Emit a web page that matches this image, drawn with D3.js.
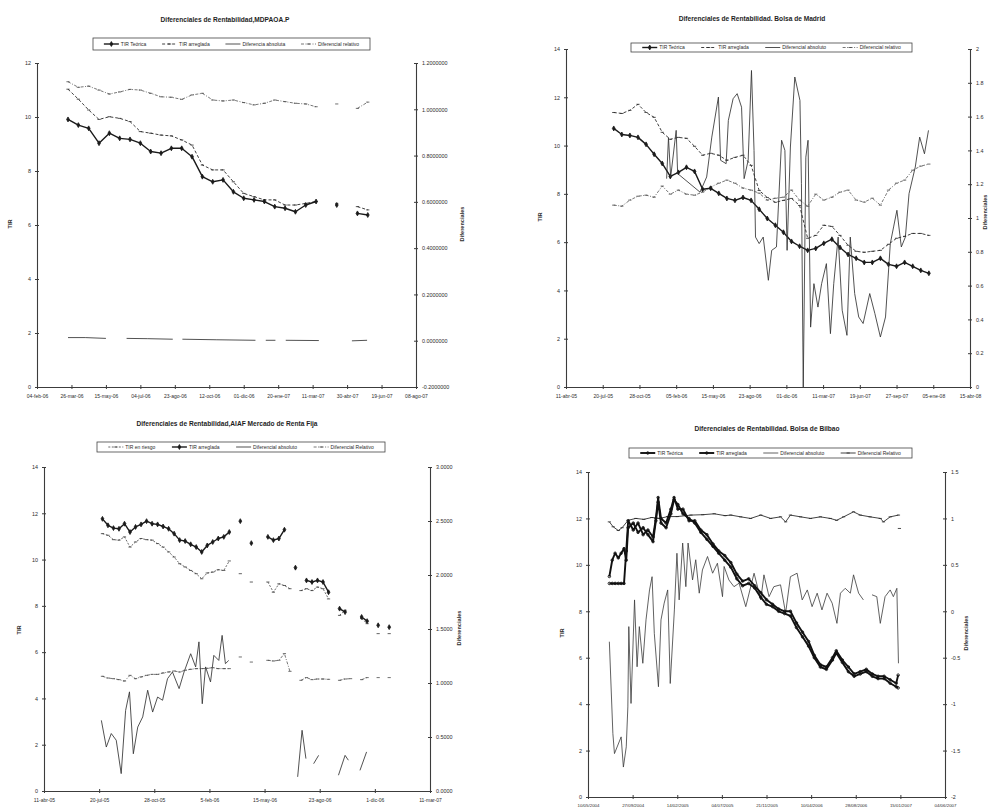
<!DOCTYPE html>
<html>
<head>
<meta charset="utf-8">
<script src="https://cdn.jsdelivr.net/npm/d3@7"></script>
<style>
    body { margin: 0; background: #fff; }
    svg { display: block; font-family: "Liberation Sans", Arial, sans-serif; }
</style>
</head>
<body>
<svg id="chart" width="989" height="807"></svg>
<script>
// ---------------------------------------------------------------------------
// data: x values are days counted from the first tick of each panel
// ---------------------------------------------------------------------------

// panel 1 : MDPAOA.P
var p1XLabels = ["04-feb-06", "26-mar-06", "15-may-06", "04-jul-06", "23-ago-06", "12-oct-06",
                 "01-dic-06", "20-ene-07", "11-mar-07", "30-abr-07", "19-jun-07", "08-ago-07"];
var p1LeftTicks = [0, 2, 4, 6, 8, 10, 12];
var p1RightTicks = [-0.2, 0, 0.2, 0.4, 0.6, 0.8, 1.0, 1.2];
var p1Legend = ["TIR Teórica", "TIR arreglada", "Diferencia absoluta", "Diferencial relativo"];
var p1Days = [45, 60, 75, 90, 105, 120, 135, 150, 165, 180, 195, 210, 225, 240, 255,
              270, 285, 300, 315, 330, 345, 360, 375, 390, 405, 420, 435, 450, 465, 480];
var p1Teorica = [9.91, 9.70, 9.58, 9.03, 9.40, 9.21, 9.17, 9.03, 8.72, 8.66, 8.84, 8.84, 8.53, 7.79, 7.60,
                 7.67, 7.23, 6.99, 6.93, 6.87, 6.68, 6.62, 6.49, 6.74, 6.87, null, 6.74, null, 6.43, 6.37];
var p1Arreglada = [11.03, 10.66, 10.26, 9.91, 10.01, 9.95, 9.83, 9.46, 9.40, 9.33, 9.30, 9.15, 8.96, 8.22, 8.04,
                   8.04, 7.60, 7.17, 7.05, 6.93, 6.93, 6.74, 6.74, 6.80, 6.87, null, 6.80, null, 6.68, 6.56];
var p1Relativo = [1.119, 1.095, 1.100, 1.083, 1.066, 1.075, 1.086, 1.083, 1.069, 1.054, 1.052, 1.043, 1.062, 1.069, 1.040,
                  1.036, 1.040, 1.029, 1.019, 1.026, 1.040, 1.033, 1.026, 1.023, 1.011, null, 1.023, null, 1.004, 1.031];
var p1AbsDays = [45, 70, 100, 115, 130, 160, 197, 204, 211, 260, 317, 325, 332, 346, 354, 361, 409, 433, 457, 479];
var p1AbsVals = [1.83, 1.83, 1.80, null, 1.80, 1.79, 1.77, null, 1.77, 1.75, 1.73, null, 1.73, 1.73, null, 1.73, 1.72, null, 1.71, 1.73];

// panel 2 : Bolsa de Madrid
var p2XLabels = ["11-abr-05", "20-jul-05", "28-oct-05", "05-feb-06", "15-may-06", "23-ago-06",
                 "01-dic-06", "11-mar-07", "19-jun-07", "27-sep-07", "05-ene-08", "15-abr-08"];
var p2LeftTicks = [0, 2, 4, 6, 8, 10, 12, 14];
var p2RightTicks = [0, 0.2, 0.4, 0.6, 0.8, 1, 1.2, 1.4, 1.6, 1.8, 2];
var p2Legend = ["TIR Teórica", "TIR arreglada", "Diferencial absoluto", "Diferencial relativo"];
var p2Days = [130, 152, 174, 196, 218, 240, 262, 284, 306, 328, 350, 372, 394, 416, 438, 460, 482, 504, 526, 548,
              570, 592, 614, 636, 658, 680, 702, 724, 746, 768, 790, 812, 834, 856, 878, 900, 922, 944, 966, 988];
var p2Teorica = [10.71, 10.46, 10.42, 10.34, 10.05, 9.64, 9.26, 8.72, 8.89, 9.10, 8.93, 8.19, 8.23, 8.02, 7.81, 7.73, 7.85, 7.73, 7.36, 6.98,
                 6.70, 6.41, 6.03, 5.83, 5.66, 5.74, 5.95, 6.12, 5.78, 5.49, 5.33, 5.16, 5.16, 5.33, 5.08, 5.00, 5.16, 5.00, 4.83, 4.71];
var p2Arreglada = [11.37, 11.33, 11.46, 11.71, 11.37, 11.17, 10.55, 10.26, 10.34, 10.30, 9.97, 9.60, 9.68, 9.60, 9.39, 9.51, 9.60, 9.18, 8.14, 7.85,
                   7.65, 7.73, 7.81, 7.52, 6.16, 6.28, 6.70, 6.65, 6.28, 5.87, 5.62, 5.58, 5.62, 5.66, 5.91, 6.16, 6.24, 6.36, 6.36, 6.28];
var p2Relativo = [1.076, 1.070, 1.106, 1.129, 1.135, 1.123, 1.189, 1.141, 1.165, 1.141, 1.135, 1.153, 1.183, 1.206, 1.224, 1.206, 1.177, 1.165, 1.147, 1.106,
                  1.117, 1.123, 1.165, 1.106, 1.070, 1.141, 1.106, 1.123, 1.153, 1.165, 1.106, 1.094, 1.117, 1.076, 1.165, 1.206, 1.224, 1.283, 1.307, 1.319];
var p2AbsDays = [274, 279, 285, 300, 304, 365, 383, 397, 415, 421, 436, 442, 455, 466, 478, 485, 496, 505, 512, 516,
                 526, 537, 551, 560, 573, 587, 596, 602, 611, 623, 637, 641, 646, 653, 659, 666, 675, 686, 696, 709,
                 720, 729, 741, 752, 765, 774, 786, 797, 809, 827, 841, 856, 870, 883, 892, 901, 913, 924, 934, 951,
                 963, 976, 987];
var p2AbsVals = [8.63, 10.33, 8.70, 10.63, 8.84, 8.07, 8.70, 10.35, 12.01, 9.39, 9.25, 11.04, 11.94, 12.15, 11.59, 8.63, 9.39, 13.11, 9.80, 6.21,
                 5.94, 6.21, 4.42, 5.66, 5.80, 10.22, 9.80, 5.66, 9.94, 12.84, 11.87, 8.42, 0.0, 9.52, 10.22, 2.48, 4.28, 3.31, 4.28, 5.11,
                 2.21, 4.28, 6.21, 3.18, 2.14, 6.21, 3.87, 2.90, 2.63, 3.87, 3.04, 2.07, 2.90, 5.94, 6.63, 7.32, 5.80, 6.21, 8.01, 9.11,
                 10.35, 9.66, 10.63];

// panel 3 : AIAF Mercado de Renta Fija
var p3XLabels = ["11-abr-05", "20-jul-05", "28-oct-05", "5-feb-06", "15-may-06", "23-ago-06", "1-dic-06", "11-mar-07"];
var p3LeftTicks = [0, 2, 4, 6, 8, 10, 12, 14];
var p3RightTicks = [0, 0.5, 1, 1.5, 2, 2.5, 3];
var p3Legend = ["TIR en riesgo", "TIR arreglada", "Diferencial absoluto", "Diferencial Relativo"];
var p3Days = [106, 116, 126, 136, 146, 156, 166, 176, 186, 196, 206, 216, 226, 236, 246, 256, 266, 276, 286, 296,
              306, 316, 326, 336, 346, 356, 366, 376, 386, 396, 406, 416, 426, 436, 446, 456, 466, 476, 486, 496,
              506, 516, 526, 536, 546, 556, 566, 576, 586, 596, 606, 616, 626];
var p3Riesgo = [11.12, 11.05, 10.86, 10.84, 10.98, 10.54, 10.76, 10.91, 10.86, 10.84, 10.69, 10.54, 10.33, 10.11, 9.82, 9.68, 9.53, 9.39, 9.17, 9.42,
                9.46, 9.56, 9.53, 9.94, null, 9.39, null, 9.03, null, null, 9.03, 8.59, 8.95, 8.88, 8.74, null, 8.66, 8.74, 8.66, 8.81,
                8.74, 8.30, null, 7.59, 7.81, null, null, 7.45, 7.23, null, 6.80, null, 6.80];
var p3Arreglada = [11.76, 11.48, 11.36, 11.33, 11.55, 11.19, 11.41, 11.52, 11.66, 11.55, 11.52, 11.43, 11.33, 11.12, 10.84, 10.80, 10.66, 10.54, 10.33, 10.61,
                   10.76, 10.91, 10.98, 11.19, null, 11.66, null, 10.71, null, null, 10.98, 10.84, 10.91, 11.29, null, 9.65, null, 9.10, 9.03, 9.10,
                   9.03, 8.59, null, 7.88, 7.73, null, null, 7.52, 7.34, null, 7.16, null, 7.08];
var p3Relativo = [1.062, 1.046, 1.040, 1.031, 1.018, 1.071, 1.040, 1.056, 1.071, 1.080, 1.080, 1.093, 1.102, 1.111, 1.102, 1.118, 1.127, 1.133, 1.133, 1.136,
                  1.142, 1.133, 1.133, 1.133, null, 1.241, null, 1.194, null, null, 1.210, 1.204, 1.210, 1.272, 1.108, null, 1.025, 1.050, 1.031, 1.037,
                  1.037, 1.034, null, 1.025, 1.037, 1.040, null, 1.031, 1.050, null, 1.050, null, 1.050];
var p3AbsDays = [104, 113, 122, 131, 140, 148, 155, 162, 170, 179, 188, 197, 206, 215, 224, 233, 245, 254, 266, 275,
                 281, 287, 293, 302, 308, 317, 323, 329, 335, 400, 460, 468, 475, 482, 489, 498, 510, 534, 546, 552,
                 562, 573, 585];
var p3AbsVals = [0.654, 0.407, 0.532, 0.470, 0.161, 0.746, 0.918, 0.345, 0.592, 0.686, 0.933, 0.731, 0.870, 0.840, 1.040, 1.102, 0.948, 1.102, 1.271, 1.149,
                 1.381, 0.808, 1.149, 1.010, 1.256, 1.209, 1.441, 1.179, 1.209, null, 0.131, 0.562, 0.300, null, 0.253, 0.330, null, 0.146, 0.330, 0.285,
                 null, 0.191, 0.362];

// panel 4 : Bolsa de Bilbao
var p4XLabels = ["10/05/2004", "27/09/2004", "14/02/2005", "04/07/2005", "21/11/2005",
                 "10/04/2006", "28/08/2006", "15/01/2007", "04/06/2007"];
var p4LeftTicks = [0, 2, 4, 6, 8, 10, 12, 14];
var p4RightTicks = [-2, -1.5, -1, -0.5, 0, 0.5, 1, 1.5];
var p4Legend = ["TIR Teórica", "TIR arreglada", "Diferencial absoluto", "Diferencial Relativo"];
var p4Days = [67, 76, 85, 95, 104, 113, 120, 126, 142, 157, 173, 188, 204, 213, 220, 229, 245, 260, 270, 282,
              298, 317, 335, 354, 373, 392, 410, 429, 448, 467, 485, 504, 523, 542, 560, 579, 598, 617, 635, 654,
              673, 692, 710, 729, 748, 767, 779, 798, 817, 835, 854, 873, 892, 910, 929, 948, 967, 973];
var p4Teorica = [9.5, 10.2, 10.5, 10.3, 10.5, 10.7, 10.2, 11.6, 11.8, 11.4, 11.6, 11.3, 11.0, 11.9, 12.7, 11.8, 11.6, 12.2, 12.8, 12.6,
                 12.2, 12.0, 11.8, 11.4, 11.1, 10.8, 10.5, 10.2, 9.9, 9.4, 9.1, 9.2, 9.0, 8.6, 8.3, 8.2, 8.0, 7.9, 7.8, 7.3,
                 6.9, 6.5, 6.0, 5.6, 5.5, 5.9, 6.2, 5.8, 5.4, 5.2, 5.3, 5.4, 5.2, 5.1, 5.1, 4.9, 4.75, 4.7];
var p4Arreglada = [9.2, 9.2, 9.2, 9.2, 9.2, 9.2, 10.6, 11.9, 11.5, 11.8, 11.3, 11.5, 11.2, 12.0, 12.9, 12.0, 11.8, 12.4, 12.9, 12.4,
                   12.4, 11.9, 11.9, 11.5, 11.3, 10.9, 10.6, 10.4, 10.1, 9.6, 9.3, 9.4, 9.1, 8.8, 8.5, 8.3, 8.1, 8.0, 8.0, 7.5,
                   7.1, 6.7, 6.1, 5.7, 5.6, 6.0, 6.3, 5.9, 5.6, 5.3, 5.4, 5.5, 5.3, 5.2, 5.2, 5.05, 4.9, 5.25];
var p4AbsDays = [67, 78, 83, 104, 111, 120, 125, 128, 135, 146, 154, 161, 172, 182, 193, 201, 208, 221, 229, 239,
                 250, 258, 271, 279, 286, 297, 307, 314, 328, 338, 349, 359, 375, 391, 406, 422, 427, 442, 458, 474,
                 495, 521, 542, 552, 568, 583, 604, 620, 635, 656, 672, 688, 703, 719, 734, 750, 766, 781, 792, 807,
                 823, 833, 849, 864, 878, 891, 906, 917, 932, 948, 958, 969, 974];
var p4AbsVals = [6.69, 2.74, 1.87, 2.59, 1.29, 2.16, 3.88, 7.34, 4.03, 8.49, 5.61, 7.34, 5.76, 7.63, 8.92, 9.49, 7.05, 4.75, 7.63, 8.35,
                 8.92, 4.89, 8.06, 10.5, 8.49, 10.94, 9.06, 10.94, 9.35, 10.22, 8.78, 9.78, 10.36, 9.64, 10.07, 8.63, 9.93, 9.35, 9.06, 9.21,
                 8.2, 9.64, 8.49, 9.57, 8.63, 9.06, 9.14, 7.92, 9.49, 9.64, 8.49, 8.92, 8.2, 8.78, 8.06, 8.78, 8.35, 7.48, 8.78, 8.99,
                 8.78, 9.57, 8.78, 8.49, null, 8.71, 8.63, 7.48, 8.63, 8.92, 8.63, 8.99, 5.76];
var p4RelDays = [67, 79, 95, 107, 126, 150, 175, 200, 225, 250, 280, 323, 360, 396, 430, 448, 479, 510, 542, 573,
                 604, 620, 635, 667, 698, 729, 760, 780, 802, 833, 854, 885, 917, 927, 948, 974, 975, 977];
var p4RelVals = [0.963, 0.91, 0.87, 0.90, 0.98, 1.0, 0.99, 1.01, 1.0, 1.02, 1.02, 1.036, 1.04, 1.05, 1.03, 1.036, 1.017, 1.0, 1.036, 1.0,
                 1.017, 0.963, 1.036, 1.017, 1.0, 1.017, 1.0, 0.98, 1.017, 1.071, 1.036, 1.017, 1.0, 0.963, 1.017, 1.036, null, 0.892];

// ---------------------------------------------------------------------------
// line styles (scanned Excel charts, all in greys)
// ---------------------------------------------------------------------------
var styles = {
    teo:  { color: "#1a1a1a", width: 1.4, dash: null,          marker: "diamond" },
    arr:  { color: "#2a2a2a", width: 0.9, dash: "3,2",         marker: "dash" },
    abs:  { color: "#333333", width: 0.85, dash: null,         marker: null },
    rel:  { color: "#4a4a4a", width: 0.75, dash: "3,1.5,1,1.5", marker: "dash" },
    rie:  { color: "#3a3a3a", width: 0.75, dash: "2,1.5",      marker: "dash" },
    thk:  { color: "#111111", width: 1.9, dash: null,          marker: "circle" },
    thin: { color: "#3a3a3a", width: 0.8, dash: null,          marker: null },
    relb: { color: "#222222", width: 0.85, dash: null,         marker: "dash" }
};

var fmtPlain = function(v) { return String(Math.round(v * 10) / 10); };

var panels = [
    {
        title: "Diferenciales de Rentabilidad,MDPAOA.P", titleX: 225, titleY: 22,
        legend: p1Legend, legendBox: [93, 38, 370, 50],
        plot: { left: 37, right: 416, top: 63, bottom: 387 },
        xLabels: p1XLabels, xStep: 50, xFont: 5, xPad: 5.5,
        leftTicks: p1LeftTicks, rightTicks: p1RightTicks,
        rightFmt: function(v) { return v.toFixed(7); },
        leftTitle: [12, 224], rightTitle: [464, 224],
        series: [
            { days: p1AbsDays, values: p1AbsVals, axis: "left", style: "abs", leg: 2 },
            { days: p1Days, values: p1Relativo, axis: "right", style: "rel", leg: 3 },
            { days: p1Days, values: p1Arreglada, axis: "left", style: "arr", leg: 1 },
            { days: p1Days, values: p1Teorica, axis: "left", style: "teo", leg: 0 }
        ]
    },
    {
        title: "Diferenciales de Rentabilidad. Bolsa de Madrid", titleX: 752, titleY: 21,
        legend: p2Legend, legendBox: [631, 43, 912, 52],
        plot: { left: 566, right: 970, top: 49, bottom: 387 },
        xLabels: p2XLabels, xStep: 100, xFont: 5, xPad: 5.5,
        leftTicks: p2LeftTicks, rightTicks: p2RightTicks,
        rightFmt: fmtPlain,
        leftTitle: [542, 217], rightTitle: [987, 212],
        series: [
            { days: p2Days, values: p2Relativo, axis: "right", style: "rel", leg: 3 },
            { days: p2Days, values: p2Arreglada, axis: "left", style: "arr", leg: 1 },
            { days: p2Days, values: p2Teorica, axis: "left", style: "teo", leg: 0 },
            { days: p2AbsDays, values: p2AbsVals, axis: "left", style: "abs", leg: 2 }
        ]
    },
    {
        title: "Diferenciales de Rentabilidad,AIAF Mercado de Renta Fija", titleX: 227, titleY: 426,
        legend: p3Legend, legendBox: [97, 442, 385, 452],
        plot: { left: 44, right: 430, top: 467, bottom: 791 },
        xLabels: p3XLabels, xStep: 100, xFont: 5, xPad: 5.5,
        leftTicks: p3LeftTicks, rightTicks: p3RightTicks,
        rightFmt: function(v) { return v.toFixed(4); },
        leftTitle: [21, 630], rightTitle: [461, 628],
        series: [
            { days: p3AbsDays, values: p3AbsVals, axis: "right", style: "abs", leg: 2 },
            { days: p3Days, values: p3Relativo, axis: "right", style: "rel", leg: 3 },
            { days: p3Days, values: p3Riesgo, axis: "left", style: "rie", leg: 0 },
            { days: p3Days, values: p3Arreglada, axis: "left", style: "teo", leg: 1 }
        ]
    },
    {
        title: "Diferenciales de Rentabilidad. Bolsa de Bilbao", titleX: 767, titleY: 431,
        legend: p4Legend, legendBox: [629, 448, 912, 458],
        plot: { left: 588, right: 945, top: 472, bottom: 797 },
        xLabels: p4XLabels, xStep: 140, xFont: 4.4, xPad: 5,
        leftTicks: p4LeftTicks, rightTicks: p4RightTicks,
        rightFmt: fmtPlain,
        leftTitle: [564, 633], rightTitle: [968, 633],
        series: [
            { days: p4AbsDays, values: p4AbsVals, axis: "left", style: "thin", leg: 2 },
            { days: p4RelDays, values: p4RelVals, axis: "right", style: "relb", leg: 3 },
            { days: p4Days, values: p4Arreglada, axis: "left", style: "thk", leg: 1 },
            { days: p4Days, values: p4Teorica, axis: "left", style: "thk", leg: 0 }
        ]
    }
];

// ---------------------------------------------------------------------------
var svg = d3.select("#chart");
var textColor = "#2b2b2b";
var axisColor = "#3c3c3c";

function markerPath(kind) {
    if (kind === "diamond") return d3.symbol(d3.symbolDiamond, 7)();
    if (kind === "circle") return d3.symbol(d3.symbolCircle, 5)();
    if (kind === "dash") return "M-1.6,0H1.6";
    return null;
}

function drawMarkers(g, pts, st) {
    if (!st.marker) return;
    g.selectAll(null)
        .data(pts)
        .enter().append("path")
        .attr("transform", function(d) { return "translate(" + d[0] + "," + d[1] + ")"; })
        .attr("d", markerPath(st.marker))
        .attr("fill", st.marker === "diamond" ? st.color : "none")
        .attr("stroke", st.color)
        .attr("stroke-width", st.marker === "circle" ? 0.9 : 0.8);
}

function crossTicks(g, vertical) {
    g.selectAll(".tick line")
        .attr(vertical ? "x1" : "y1", -2)
        .attr(vertical ? "x2" : "y2", 2)
        .attr("stroke", axisColor);
    g.select(".domain").attr("stroke", axisColor).attr("stroke-width", 1.1);
    g.selectAll(".tick text").attr("fill", textColor);
}

function drawPanel(p) {
    var g = svg.append("g");
    var xMax = (p.xLabels.length - 1) * p.xStep;
    var x = d3.scaleLinear().domain([0, xMax]).range([p.plot.left, p.plot.right]);
    var yL = d3.scaleLinear()
        .domain([p.leftTicks[0], p.leftTicks[p.leftTicks.length - 1]])
        .range([p.plot.bottom, p.plot.top]);
    var yR = d3.scaleLinear()
        .domain([p.rightTicks[0], p.rightTicks[p.rightTicks.length - 1]])
        .range([p.plot.bottom, p.plot.top]);

    // title
    g.append("text")
        .attr("x", p.titleX).attr("y", p.titleY)
        .attr("text-anchor", "middle")
        .attr("font-size", 6.6).attr("font-weight", "bold")
        .attr("fill", "#1e1e1e")
        .text(p.title);

    // axes
    var xAxis = d3.axisBottom(x)
        .tickValues(p.xLabels.map(function(d, i) { return i * p.xStep; }))
        .tickFormat(function(d, i) { return p.xLabels[i]; })
        .tickSize(2).tickSizeOuter(0).tickPadding(p.xPad);
    g.append("g")
        .attr("transform", "translate(0," + p.plot.bottom + ")")
        .call(xAxis)
        .call(function(a) { crossTicks(a, false); })
        .selectAll("text").attr("font-size", p.xFont).attr("font-family", null);

    var yAxisL = d3.axisLeft(yL).tickValues(p.leftTicks).tickFormat(fmtPlain)
        .tickSize(2).tickSizeOuter(0).tickPadding(4);
    g.append("g")
        .attr("transform", "translate(" + p.plot.left + ",0)")
        .call(yAxisL)
        .call(function(a) { crossTicks(a, true); })
        .selectAll("text").attr("font-size", 5.4).attr("font-family", null);

    var yAxisR = d3.axisRight(yR).tickValues(p.rightTicks).tickFormat(p.rightFmt)
        .tickSize(2).tickSizeOuter(0).tickPadding(4);
    g.append("g")
        .attr("transform", "translate(" + p.plot.right + ",0)")
        .call(yAxisR)
        .call(function(a) { crossTicks(a, true); })
        .selectAll("text").attr("font-size", 5.4).attr("font-family", null);

    // axis titles
    g.append("text")
        .attr("transform", "translate(" + p.leftTitle[0] + "," + p.leftTitle[1] + ") rotate(-90)")
        .attr("text-anchor", "middle").attr("font-size", 5.6).attr("font-weight", "bold")
        .attr("fill", textColor).text("TIR");
    g.append("text")
        .attr("transform", "translate(" + p.rightTitle[0] + "," + p.rightTitle[1] + ") rotate(-90)")
        .attr("text-anchor", "middle").attr("font-size", 5.6).attr("font-weight", "bold")
        .attr("fill", textColor).text("Diferenciales");

    // series
    p.series.forEach(function(s) {
        var st = styles[s.style];
        var y = s.axis === "left" ? yL : yR;
        var pts = s.days.map(function(d, i) { return [d, s.values[i]]; });
        var line = d3.line()
            .defined(function(d) { return d[1] !== null; })
            .x(function(d) { return x(d[0]); })
            .y(function(d) { return y(d[1]); });
        g.append("path")
            .datum(pts)
            .attr("d", line)
            .attr("fill", "none")
            .attr("stroke", st.color)
            .attr("stroke-width", st.width)
            .attr("stroke-dasharray", st.dash)
            .attr("stroke-linejoin", "round");
        drawMarkers(g, pts.filter(function(d) { return d[1] !== null; })
                          .map(function(d) { return [x(d[0]), y(d[1])]; }), st);
    });

    // legend
    var lb = p.legendBox;
    var lg = g.append("g");
    lg.append("rect")
        .attr("x", lb[0]).attr("y", lb[1])
        .attr("width", lb[2] - lb[0]).attr("height", lb[3] - lb[1])
        .attr("fill", "#fff").attr("stroke", "#444").attr("stroke-width", 0.8);
    var cy = (lb[1] + lb[3]) / 2;
    var sampleW = 15;
    var items = p.series.slice().sort(function(a, b) { return a.leg - b.leg; });
    var texts = items.map(function(s) {
        return lg.append("text")
            .attr("font-size", 5).attr("fill", textColor)
            .attr("y", cy + 1.8)
            .text(p.legend[s.leg]);
    });
    var widths = texts.map(function(t) { return t.node().getComputedTextLength(); });
    var used = d3.sum(widths) + items.length * (sampleW + 2);
    var gap = (lb[2] - lb[0] - 6 - used) / items.length;
    var cx = lb[0] + 3 + gap / 2;
    items.forEach(function(s, i) {
        var st = styles[s.style];
        lg.append("line")
            .attr("x1", cx).attr("x2", cx + sampleW)
            .attr("y1", cy).attr("y2", cy)
            .attr("stroke", st.color).attr("stroke-width", st.width)
            .attr("stroke-dasharray", st.dash);
        drawMarkers(lg, [[cx + sampleW / 2, cy]], st);
        texts[i].attr("x", cx + sampleW + 2);
        cx += sampleW + 2 + widths[i] + gap;
    });
}

panels.forEach(drawPanel);
</script>
</body>
</html>
